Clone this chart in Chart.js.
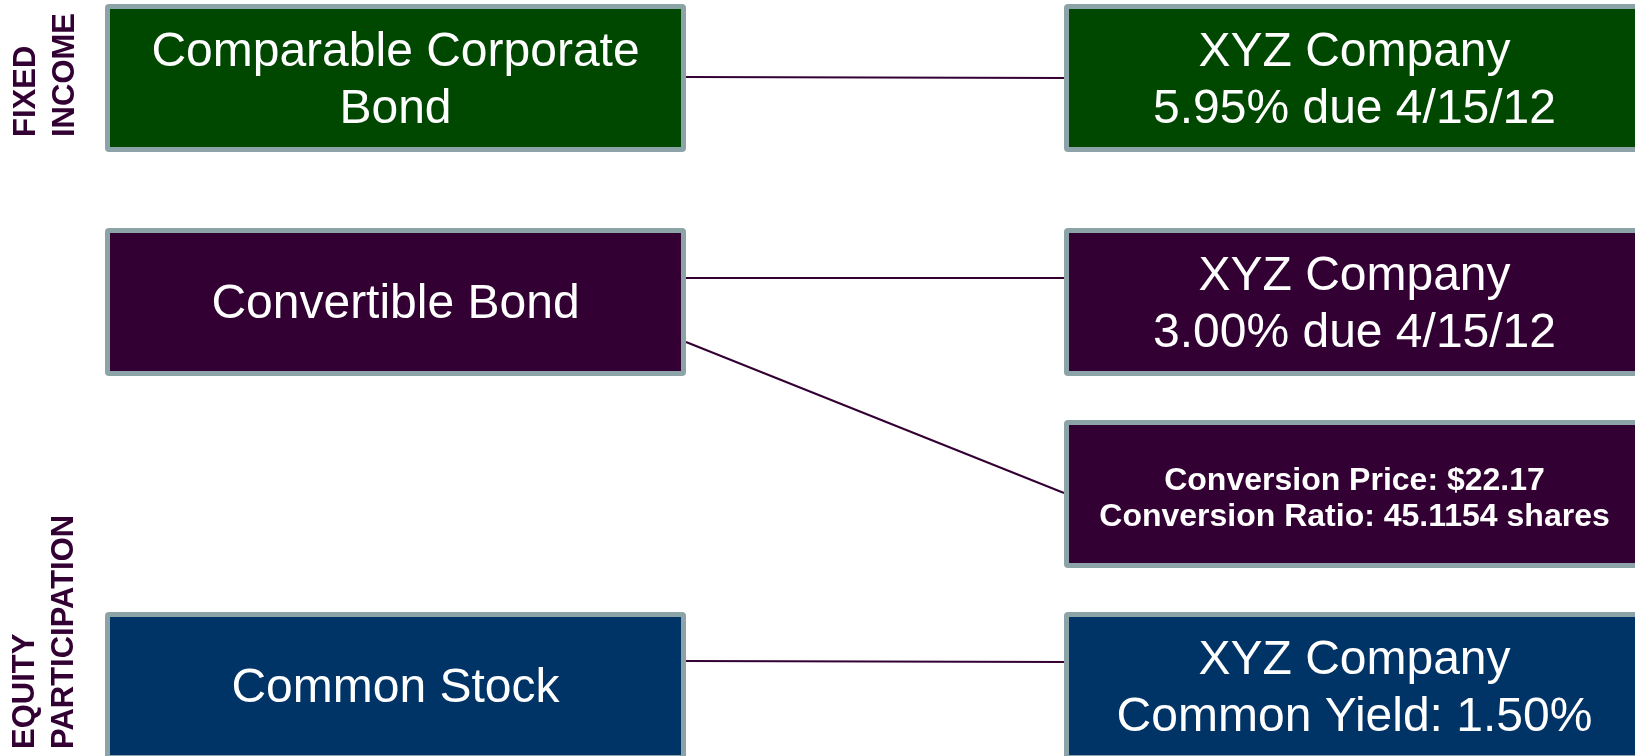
<!DOCTYPE html>
<html>
<head>
<meta charset="utf-8">
<script src="https://cdn.jsdelivr.net/npm/chart.js@4.4.1/dist/chart.umd.min.js"></script>
<style>
  html, body { margin: 0; padding: 0; background: #ffffff; }
  #wrap { width: 1635px; height: 756px; position: relative; }
</style>
</head>
<body>
<div id="wrap"><canvas id="c" width="1635" height="756"></canvas></div>
<script>
// Instruments on the left, the XYZ issue details on the right
const leftLabels = [
  ["Comparable Corporate", "Bond"],
  ["Convertible Bond"],
  ["Common Stock"]
];
const rightLabels = [
  ["XYZ Company", "5.95% due 4/15/12"],
  ["XYZ Company", "3.00% due 4/15/12"],
  ["Conversion Price: $22.17", "Conversion Ratio: 45.1154 shares"],
  ["XYZ Company", "Common Yield: 1.50%"]
];
const sectionLabels = [["FIXED", "INCOME"], ["EQUITY", "PARTICIPATION"]];
// which left box feeds which right box
const links = [[0, 0], [1, 1], [1, 2], [2, 3]];

// ---- layout (canvas units = scale units) ----
const boxW = 581, boxH = 148, border = 5;
const leftX = 105, rightX = 1064;
const leftTops = [4, 228, 612];
const rightTops = [4, 228, 420, 612];
const fills = { green: "#004800", purple: "#330033", blue: "#003366" };
const leftFill = [fills.green, fills.purple, fills.blue];
const rightFill = [fills.green, fills.purple, fills.purple, fills.blue];
const rightBold = [false, false, true, false];
// vertical offset of each connector end from its box top
const linkOffsets = [[73, 74], [50, 50], [114, 73], [49, 50]];
// start (bottom) of each rotated caption and the baseline of each of its lines
const sectionSpec = [
  { bottom: 137, cols: [35, 74] },
  { bottom: 749, cols: [34, 73] }
];

const lineDatasets = links.map(([l, r], i) => ({
  type: "line",
  data: [
    { x: leftX + boxW, y: leftTops[l] + linkOffsets[i][0] },
    { x: rightX, y: rightTops[r] + linkOffsets[i][1] }
  ],
  showLine: true,
  borderColor: "#330033",
  borderWidth: 2,
  pointRadius: 0,
  fill: false,
  clip: false
}));

function roundRect(ctx, x, y, w, h, r) {
  ctx.beginPath();
  ctx.moveTo(x + r, y);
  ctx.lineTo(x + w - r, y);
  ctx.quadraticCurveTo(x + w, y, x + w, y + r);
  ctx.lineTo(x + w, y + h - r);
  ctx.quadraticCurveTo(x + w, y + h, x + w - r, y + h);
  ctx.lineTo(x + r, y + h);
  ctx.quadraticCurveTo(x, y + h, x, y + h - r);
  ctx.lineTo(x, y + r);
  ctx.quadraticCurveTo(x, y, x + r, y);
  ctx.closePath();
}

const diagramPlugin = {
  id: "diagram",
  afterDatasetsDraw(chart) {
    const ctx = chart.ctx;
    const sx = chart.scales.x, sy = chart.scales.y;
    function box(x0, top, fill, lines, bold) {
      const px0 = sx.getPixelForValue(x0), px1 = sx.getPixelForValue(x0 + boxW);
      const py0 = sy.getPixelForValue(top), py1 = sy.getPixelForValue(top + boxH);
      const w = px1 - px0, h = py1 - py0;
      ctx.save();
      ctx.fillStyle = "#8ca3a7";
      roundRect(ctx, px0, py0, w, h, 4);
      ctx.fill();
      ctx.fillStyle = fill;
      ctx.fillRect(px0 + border, py0 + border, w - 2 * border, h - 2 * border);
      ctx.fillStyle = "#ffffff";
      ctx.textAlign = "center";
      ctx.textBaseline = "middle";
      const size = bold ? 32 : 48;
      const lh = bold ? 36 : 57;
      ctx.font = (bold ? "bold " : "") + size + 'px "Liberation Sans", Arial, sans-serif';
      const cx = px0 + w / 2;
      const cy = py0 + h / 2 + (bold ? 5 : 3);
      const n = lines.length;
      lines.forEach((t, k) => {
        ctx.fillText(t, cx, cy + (k - (n - 1) / 2) * lh);
      });
      ctx.restore();
    }
    leftLabels.forEach((lines, i) => box(leftX, leftTops[i], leftFill[i], lines, false));
    rightLabels.forEach((lines, i) => box(rightX, rightTops[i], rightFill[i], lines, rightBold[i]));

    // rotated section captions
    sectionLabels.forEach((words, i) => {
      const spec = sectionSpec[i];
      words.forEach((w, k) => {
        ctx.save();
        ctx.translate(sx.getPixelForValue(spec.cols[k]), sy.getPixelForValue(spec.bottom));
        ctx.rotate(-Math.PI / 2);
        ctx.fillStyle = "#330033";
        ctx.font = 'bold 31px "Liberation Sans", Arial, sans-serif';
        ctx.textAlign = "left";
        ctx.textBaseline = "alphabetic";
        ctx.fillText(w, 0, 0);
        ctx.restore();
      });
    });
  }
};

new Chart(document.getElementById("c"), {
  type: "scatter",
  data: { datasets: lineDatasets },
  options: {
    responsive: false,
    animation: false,
    devicePixelRatio: 1,
    layout: { padding: 0 },
    plugins: { legend: { display: false }, tooltip: { enabled: false } },
    scales: {
      x: { type: "linear", min: 0, max: 1635, display: false },
      y: { type: "linear", min: 0, max: 756, reverse: true, display: false }
    }
  },
  plugins: [diagramPlugin]
});
</script>
</body>
</html>
